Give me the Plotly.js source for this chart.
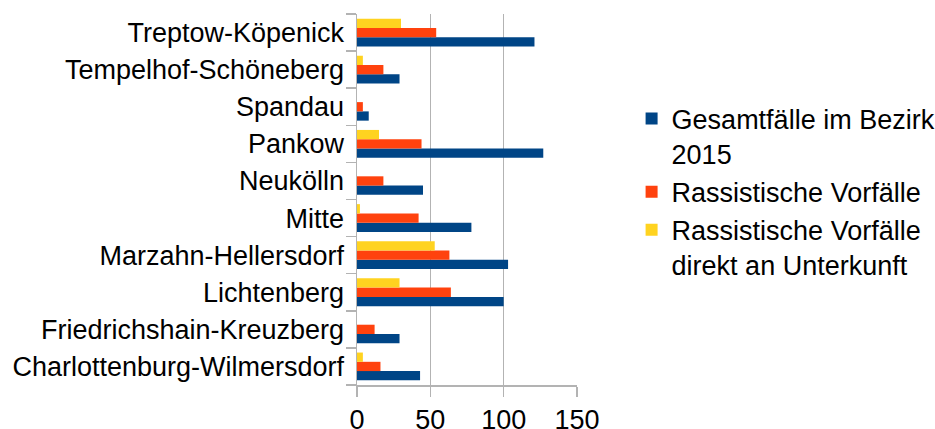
<!DOCTYPE html>
<html>
<head>
<meta charset="utf-8">
<script src="https://cdn.plot.ly/plotly-3.0.1.min.js"></script>
<style>html,body{margin:0;padding:0;background:#fff;}#chart{width:935px;height:429px;}</style>
</head>
<body>
<div id="chart"></div>
<script>
// Districts listed bottom to top
const districts = [
  "Charlottenburg-Wilmersdorf",
  "Friedrichshain-Kreuzberg",
  "Lichtenberg",
  "Marzahn-Hellersdorf",
  "Mitte",
  "Neukölln",
  "Pankow",
  "Spandau",
  "Tempelhof-Schöneberg",
  "Treptow-Köpenick"
];
const gesamtfaelle = [43, 29, 100, 103, 78, 45, 127, 8, 29, 121];
const rassistisch = [16, 12, 64, 63, 42, 18, 44, 4, 18, 54];
const unterkunft = [4, 0, 29, 53, 2, 0, 15, 0, 4, 30];
const seriesNames = [
  "Gesamtfälle im Bezirk<br>2015",
  "Rassistische Vorfälle",
  "Rassistische Vorfälle<br>direkt an Unterkunft"
];
const seriesColors = ["#004586", "#ff420e", "#ffd320"];
const xTicks = [0, 50, 100, 150];

const seriesValues = [gesamtfaelle, rassistisch, unterkunft];
const data = seriesValues.map((vals, i) => ({
  type: "bar",
  orientation: "h",
  y: districts,
  x: vals,
  name: seriesNames[i],
  marker: {color: seriesColors[i], line: {width: 0}},
  hoverinfo: "x+y"
}));

const layout = {
  width: 935,
  height: 429,
  paper_bgcolor: "#ffffff",
  plot_bgcolor: "#ffffff",
  font: {family: "'Liberation Sans', Arial, sans-serif", size: 27, color: "#000000"},
  margin: {l: 357, r: 358, t: 14, b: 44, pad: 0},
  barmode: "group",
  bargap: 0.25,
  bargroupgap: 0,
  showlegend: true,
  legend: {
    xref: "container", yref: "container",
    x: 0.6755, y: 0.78, xanchor: "left", yanchor: "top",
    traceorder: "normal",
    valign: "top",
    font: {size: 27, color: "#000000"},
    bgcolor: "rgba(0,0,0,0)",
    borderwidth: 0
  },
  xaxis: {
    range: [0, 150],
    tickvals: xTicks,
    ticktext: xTicks.map(String),
    showgrid: true,
    gridcolor: "#b3b3b3",
    gridwidth: 1.5,
    zeroline: false,
    showline: true,
    linecolor: "#b3b3b3",
    linewidth: 1.5,
    ticks: "outside",
    ticklen: 10,
    tickwidth: 1.5,
    tickcolor: "#b3b3b3",
    fixedrange: true
  },
  yaxis: {
    type: "category",
    categoryorder: "array",
    categoryarray: districts,
    tickson: "boundaries",
    ticks: "outside",
    ticklen: 10,
    tickwidth: 1.5,
    tickcolor: "#b3b3b3",
    showline: true,
    linecolor: "#b3b3b3",
    linewidth: 1.5,
    showgrid: false,
    zeroline: false,
    ticklabelstandoff: 6,
    fixedrange: true
  }
};

Plotly.newPlot("chart", data, layout, {displayModeBar: false, staticPlot: true});
</script>
</body>
</html>
